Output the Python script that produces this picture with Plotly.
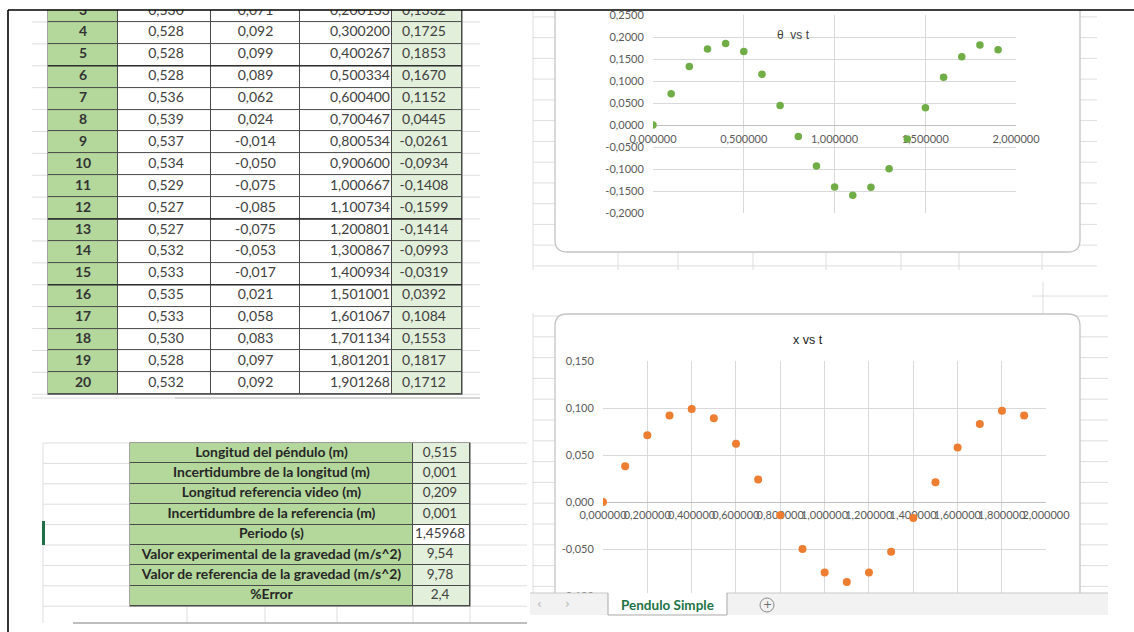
import plotly.graph_objects as go

W, H = 1134, 632


def fx(x):
    return x / W


def fy(y):
    return 1 - y / H


def fmt(v, d):
    return f"{v:.{d}f}".replace(".", ",")


# ---------------- data ----------------
row_num = list(range(1, 21))
t_s = [0.000000, 0.100067, 0.200133, 0.300200, 0.400267, 0.500334, 0.600400,
       0.700467, 0.800534, 0.900600, 1.000667, 1.100734, 1.200801, 1.300867,
       1.400934, 1.501001, 1.601067, 1.701134, 1.801201, 1.901268]
x_m = [0.000, 0.038, 0.071, 0.092, 0.099, 0.089, 0.062, 0.024, -0.014, -0.050,
       -0.075, -0.085, -0.075, -0.053, -0.017, 0.021, 0.058, 0.083, 0.097, 0.092]
y_m = [None, None, 0.530, 0.528, 0.528, 0.528, 0.536, 0.539, 0.537, 0.534,
       0.529, 0.527, 0.527, 0.532, 0.533, 0.535, 0.533, 0.530, 0.528, 0.532]
theta_rad = [0.0000, 0.0710, 0.1332, 0.1725, 0.1853, 0.1670, 0.1152, 0.0445,
             -0.0261, -0.0934, -0.1408, -0.1599, -0.1414, -0.0993, -0.0319,
             0.0392, 0.1084, 0.1553, 0.1817, 0.1712]

param_labels = ["Longitud del péndulo (m)",
                "Incertidumbre de la longitud (m)",
                "Longitud referencia video (m)",
                "Incertidumbre de la referencia (m)",
                "Periodo (s)",
                "Valor experimental de la gravedad (m/s^2)",
                "Valor de referencia de la gravedad (m/s^2)",
                "%Error"]
param_values = [0.515, 0.001, 0.209, 0.001, 1.45968, 9.54, 9.78, 2.4]
param_decimals = [3, 3, 3, 3, 5, 2, 2, 1]

theta_ticks = [round(-0.2 + 0.05 * i, 2) for i in range(10)]
x_ticks = [round(-0.10 + 0.05 * i, 2) for i in range(6)]
t_ticks_theta = [0, 0.5, 1.0, 1.5, 2.0]
t_ticks_x = [round(0.2 * i, 1) for i in range(11)]

# ---------------- styles ----------------
GREEN = "#b4d79c"
LIGHT_GREEN = "#e2efda"
CELL_LINE = "#4a4a4a"
XL_GRID = "#dedede"
CH_GRID = "#d9d9d9"
TICK_FONT = dict(family="Lato", size=11, color="#595959")

fig = go.Figure()

# ---------------- main data table (rows 3..20) ----------------
first_row = 3
tbl_rows = row_num[first_row - 1:]
ROW_H = 21.9
ROW3_Y = 11.0
col_w = [70, 93, 89, 92, 70]
col_edges = [sum(col_w[:i]) for i in range(len(col_w) + 1)]
fill_code = [2, 0, 0, 0, 1]
fill_scale = [[0, "#ffffff"], [0.5, LIGHT_GREEN], [1, GREEN]]

fig.add_trace(go.Heatmap(
    x=col_edges, y=tbl_rows, z=[fill_code for _ in tbl_rows],
    colorscale=fill_scale, zmin=0, zmax=2, showscale=False,
    xgap=1, ygap=1, hoverinfo="skip", xaxis="x3", yaxis="y3"))


def text_col(xpos, ys, texts, axes, size=14, color="#404040", weight="normal",
             pos="middle center"):
    fig.add_trace(go.Scatter(
        x=[xpos] * len(texts), y=ys, text=texts, mode="text", textposition=pos,
        textfont=dict(family="Lato", size=size, color=color, weight=weight),
        hoverinfo="skip", showlegend=False, xaxis=axes[0], yaxis=axes[1]))


sl = slice(first_row - 1, None)
text_col(35, tbl_rows, [str(r) for r in tbl_rows], ("x3", "y3"),
         color="#333333", weight="bold")
text_col(118, tbl_rows, [fmt(v, 3) for v in y_m[sl]], ("x3", "y3"))
text_col(207.5, tbl_rows, [fmt(v, 3) for v in x_m[sl]], ("x3", "y3"))
text_col(col_edges[4] - 2, tbl_rows, [fmt(v, 6) for v in t_s[sl]], ("x3", "y3"),
         pos="middle left")
text_col(376, tbl_rows, [fmt(v, 4) for v in theta_rad[sl]], ("x3", "y3"))

# ---------------- parameter table ----------------
p_rows = list(range(len(param_labels)))
p_edges = [0, 283, 340]
value_fill = [1, 1, 1, 1, 0, 1, 1, 1]
fig.add_trace(go.Heatmap(
    x=p_edges, y=p_rows, z=[[2, vf] for vf in value_fill],
    colorscale=fill_scale, zmin=0, zmax=2, showscale=False,
    xgap=1, ygap=1, hoverinfo="skip", xaxis="x4", yaxis="y4"))
text_col(141.5, p_rows, param_labels, ("x4", "y4"), size=13.9, color="#262626",
         weight="bold")
text_col(310, p_rows, [fmt(v, d) for v, d in zip(param_values, param_decimals)],
         ("x4", "y4"), size=13.5)

# ---------------- charts ----------------
fig.add_trace(go.Scatter(
    x=t_s, y=theta_rad, mode="markers", hoverinfo="skip", showlegend=False,
    marker=dict(color="#70ad47", size=7.5), xaxis="x", yaxis="y"))
fig.add_trace(go.Scatter(
    x=t_s, y=x_m, mode="markers", hoverinfo="skip", showlegend=False,
    marker=dict(color="#ed7d31", size=8), xaxis="x2", yaxis="y2"))

hidden = dict(visible=False, showgrid=False, zeroline=False, fixedrange=True)

fig.update_layout(
    width=W, height=H,
    margin=dict(l=0, r=0, t=0, b=0, pad=0, autoexpand=False),
    autosize=False,
    paper_bgcolor="white", plot_bgcolor="rgba(0,0,0,0)",
    showlegend=False, hovermode=False,
    xaxis=dict(domain=[fx(653), fx(1016)], range=[0, 2], anchor="free",
               position=fy(125), tickvals=t_ticks_theta,
               ticktext=[fmt(v, 6) for v in t_ticks_theta], tickangle=0,
               showgrid=True, gridcolor=CH_GRID, zeroline=False,
               showline=True, linecolor="#bfbfbf", ticks="outside", ticklen=4,
               tickcolor="rgba(0,0,0,0)", tickfont=TICK_FONT,
               layer="below traces", fixedrange=True, automargin=False),
    yaxis=dict(domain=[fy(213), fy(15)], range=[-0.2, 0.25], anchor="x",
               tickvals=theta_ticks, ticktext=[fmt(v, 4) for v in theta_ticks],
               showgrid=True, gridcolor=CH_GRID, zeroline=False, showline=False,
               ticks="outside", ticklen=6, tickcolor="rgba(0,0,0,0)",
               tickfont=TICK_FONT, fixedrange=True, automargin=False),
    xaxis2=dict(domain=[fx(603), fx(1046)], range=[0, 2], anchor="free",
                position=fy(502), tickvals=t_ticks_x,
                ticktext=[fmt(v, 6) for v in t_ticks_x], tickangle=0,
                showgrid=True, gridcolor=CH_GRID, zeroline=False,
                showline=True, linecolor="#bfbfbf", ticks="outside", ticklen=3,
                tickcolor="rgba(0,0,0,0)", tickfont=TICK_FONT,
                layer="below traces", fixedrange=True, automargin=False),
    yaxis2=dict(domain=[fy(596), fy(361)], range=[-0.10, 0.15], anchor="x2",
                tickvals=x_ticks, ticktext=[fmt(v, 3) for v in x_ticks],
                showgrid=True, gridcolor=CH_GRID, zeroline=False, showline=False,
                ticks="outside", ticklen=6, tickcolor="rgba(0,0,0,0)",
                tickfont=TICK_FONT, fixedrange=True, automargin=False),
    xaxis3=dict(domain=[fx(48), fx(462)], range=[0, col_edges[-1]], anchor="y3",
                **hidden),
    yaxis3=dict(domain=[fy(ROW3_Y + ROW_H * (tbl_rows[-1] - first_row + 0.5)), fy(10)],
                range=[tbl_rows[-1] + 0.5, first_row + (10 - ROW3_Y) / ROW_H],
                anchor="x3", **hidden),
    xaxis4=dict(domain=[fx(130), fx(470)], range=[0, p_edges[-1]], anchor="y4",
                **hidden),
    yaxis4=dict(domain=[fy(606), fy(443)], range=[len(p_rows) - 0.5, -0.5],
                anchor="x4", **hidden),
)

# ---------------- sheet decoration ----------------
shapes = []


def line(x0, y0, x1, y1, color=XL_GRID, width=1, layer="below"):
    shapes.append(dict(type="line", xref="paper", yref="paper",
                       x0=fx(x0), y0=fy(y0), x1=fx(x1), y1=fy(y1),
                       line=dict(color=color, width=width), layer=layer))


def rect(x0, y0, x1, y1, fill, line_color=None, width=0, layer="below"):
    shapes.append(dict(type="rect", xref="paper", yref="paper",
                       x0=fx(x0), y0=fy(y0), x1=fx(x1), y1=fy(y1),
                       fillcolor=fill,
                       line=dict(color=line_color or fill, width=width),
                       layer=layer))


def path(d, fill=None, color="#c0c0c0", width=1, layer="below"):
    s = dict(type="path", xref="paper", yref="paper", path=d,
             line=dict(color=color, width=width), layer=layer)
    if fill:
        s["fillcolor"] = fill
    shapes.append(s)


def P(x, y):
    return f"{fx(x):.5f},{fy(y):.5f}"


def rrect(x0, y0, x1, y1, r):
    return (f"M {P(x0 + r, y0)} L {P(x1 - r, y0)} Q {P(x1, y0)} {P(x1, y0 + r)} "
            f"L {P(x1, y1 - r)} Q {P(x1, y1)} {P(x1 - r, y1)} "
            f"L {P(x0 + r, y1)} Q {P(x0, y1)} {P(x0, y1 - r)} "
            f"L {P(x0, y0 + r)} Q {P(x0, y0)} {P(x0 + r, y0)} Z")


# spreadsheet grid around the data table
for k in range(18):
    yk = ROW3_Y + ROW_H * (k + 0.5)
    line(32, yk, 480, yk)
line(32, 398, 480, 398)
line(175, 398, 480, 398, color="#bdbdbd")
rect(47.5, 10, 462.5, 394.8, CELL_LINE)

# spreadsheet grid around the parameter table
for k in range(9):
    yk = 443 + 20.4 * k
    line(43, yk, 527, yk)
line(43, 443, 43, 623)
for xv in [187, 265, 337, 413, 470]:
    line(xv, 606, xv, 623)
line(73, 623, 527, 623, color="#a8a8a8", width=1.5)
rect(129.5, 442.5, 470.5, 606.5, CELL_LINE)
rect(42, 521, 45, 545, "#1f6e46")

# spreadsheet grid behind the charts (upper capture)
for k in range(13):
    yk = 16.9 + 20.75 * k
    line(533, yk, 1097, yk)
for xv in [533, 618, 678, 753, 826, 901, 959, 1042]:
    line(xv, 10, xv, 270)
# lower capture
line(1032, 296, 1108, 296)
line(1043, 282, 1043, 316)
for k in range(14):
    yk = 316 + 20.8 * k
    line(533, yk, 1108, yk)
line(533, 313, 533, 593)

# chart areas
path(rrect(555, -30, 1080, 252, 12), fill="white", color="#c4c4c4", width=1.3)
path(rrect(555, 314, 1080, 614, 12), fill="white", color="#c4c4c4", width=1.3)

# heavier separators inside the data table
for r_after in [5, 12, 15]:
    yk = ROW3_Y + ROW_H * (r_after - first_row + 0.5)
    line(48, yk, 462, yk, color="#2e2e2e", width=1.6, layer="above")

# sheet tab bar
rect(530, 593, 1108, 615, "#f2f2f2", layer="above")
line(530, 593, 608, 593, color="#c8c8c8", layer="above")
line(727, 593, 1108, 593, color="#c8c8c8", layer="above")
rect(608, 593, 727, 615, "white", layer="above")
path(f"M {P(608, 593)} L {P(608, 615)} L {P(727, 615)} L {P(727, 593)}",
     color="#a8a8a8", width=1, layer="above")
shapes.append(dict(type="circle", xref="paper", yref="paper",
                   x0=fx(760), x1=fx(774), y0=fy(598), y1=fy(612),
                   line=dict(color="#8c8c8c", width=1), layer="above"))

# outer frame of the capture
rect(0, 0, W, 10, "white", layer="above")
line(8, 10, W, 10, color="black", width=1.6, layer="above")
line(8, 10, 8, H, color="black", width=1.6, layer="above")

fig.update_layout(shapes=shapes)

# ---------------- text ----------------
ann = [
    dict(x=fx(793), y=fy(35), text="θ\u00a0 vs t",
         font=dict(family="Liberation Sans", size=12, color="#404040")),
    dict(x=fx(808), y=fy(340), text="x vs t",
         font=dict(family="Liberation Sans", size=12.5, color="#1a1a1a")),
    dict(x=fx(667), y=fy(605), text="<b>Pendulo Simple</b>",
         font=dict(family="Lato", size=13.5, color="#217346")),
    dict(x=fx(767), y=fy(604.5), text="+",
         font=dict(family="DejaVu Sans", size=11, color="#6e6e6e")),
    dict(x=fx(539), y=fy(604), text="‹",
         font=dict(family="DejaVu Sans", size=12, color="#b5b5b5")),
    dict(x=fx(567), y=fy(604), text="›",
         font=dict(family="DejaVu Sans", size=12, color="#b5b5b5")),
]
for a in ann:
    a.update(xref="paper", yref="paper", showarrow=False,
             xanchor="center", yanchor="middle")
fig.update_layout(annotations=ann)

fig.write_html("out.html", config={"displayModeBar": False, "staticPlot": True})
